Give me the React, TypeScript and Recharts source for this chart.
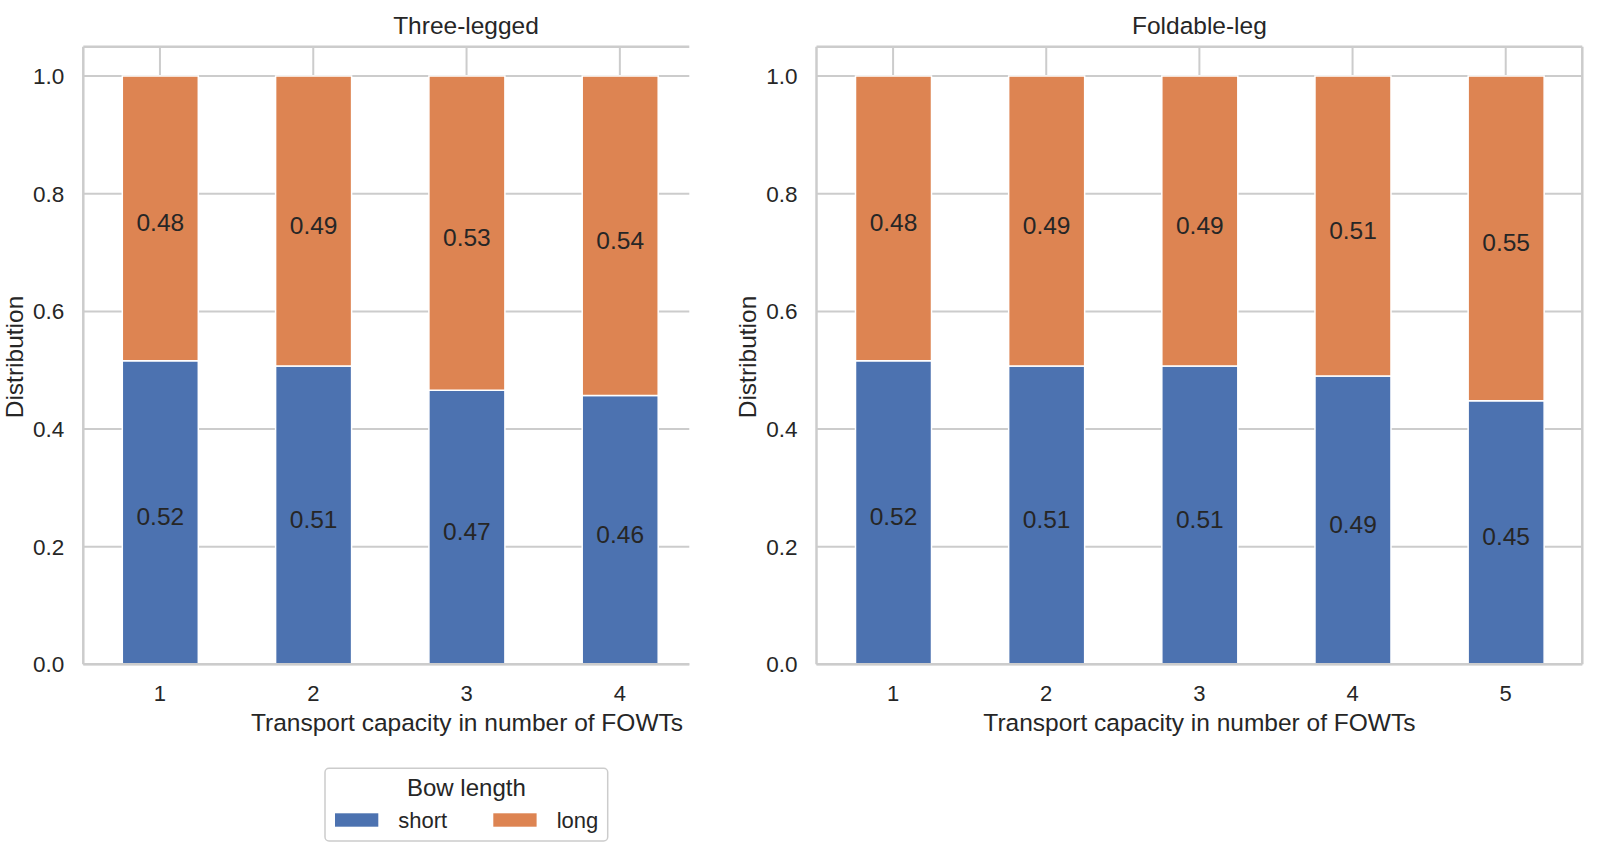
import React from 'react';
import { BarChart, Bar, XAxis, YAxis, CartesianGrid, LabelList, ReferenceLine } from 'recharts';

const leftCategories = ['1', '2', '3', '4'];
const leftShort = [0.516, 0.507, 0.466, 0.457];
const leftLong = [0.484, 0.493, 0.534, 0.543];
const rightCategories = ['1', '2', '3', '4', '5'];
const rightShort = [0.516, 0.507, 0.507, 0.49, 0.448];
const rightLong = [0.484, 0.493, 0.493, 0.51, 0.552];
const yTicks = [0, 0.2, 0.4, 0.6, 0.8, 1.0];
const panelTitles = ['Three-legged', 'Foldable-leg'];
const xLabel = 'Transport capacity in number of FOWTs';
const yLabel = 'Distribution';
const legendTitle = 'Bow length';
const seriesNames = ['short', 'long'];

const BLUE = '#4C72B0';
const ORANGE = '#DD8452';
const GRID = '#cccccc';
const TEXT = '#262626';
const FONT = '"Liberation Sans", Arial, sans-serif';

type PanelProps = {
  categories: string[];
  short: number[];
  long: number[];
  xMax: number;
  left: number;
  width: number;
  marginLeft: number;
  marginRight: number;
  rightSpine: boolean;
};

function Panel({ categories, short, long, xMax, left, width, marginLeft, marginRight, rightSpine }: PanelProps) {
  const data = categories.map((c, i) => ({ x: i, short: short[i], long: long[i] }));
  const xTicks = categories.map((_, i) => i);
  return (
    <div style={{ position: 'absolute', left, top: 0 }}>
      <BarChart
        width={width}
        height={740}
        data={data}
        margin={{ top: 46.7, right: marginRight, bottom: 45.7, left: marginLeft }}
      >
        <CartesianGrid stroke={GRID} strokeWidth={2} horizontal vertical syncWithTicks />
        <XAxis
          type="number"
          dataKey="x"
          domain={[-0.5, xMax]}
          allowDataOverflow
          ticks={xTicks}
          interval={0}
          tickFormatter={(v: number) => categories[v]}
          tickLine={false}
          tickSize={0}
          tickMargin={21}
          height={30}
          axisLine={{ stroke: GRID, strokeWidth: 2.5 }}
          tick={{ fontSize: 22, fill: TEXT, fontFamily: FONT }}
        />
        <YAxis
          type="number"
          domain={[0, 1.05]}
          allowDataOverflow
          ticks={yTicks}
          interval={0}
          tickFormatter={(v: number) => v.toFixed(1)}
          tickLine={false}
          tickSize={0}
          tickMargin={19}
          width={60}
          axisLine={{ stroke: GRID, strokeWidth: 2.5 }}
          tick={{ fontSize: 22.5, fill: TEXT, fontFamily: FONT }}
        />
        <ReferenceLine y={1.05} stroke={GRID} strokeWidth={2.5} ifOverflow="visible" />
        {rightSpine && <ReferenceLine x={xMax} stroke={GRID} strokeWidth={2.5} ifOverflow="visible" />}
        <Bar dataKey="short" stackId="s" fill={BLUE} stroke="#ffffff" strokeWidth={1.5} barSize={76} isAnimationActive={false}>
          <LabelList
            dataKey="short"
            position="center"
            formatter={(v: number) => Number(v).toFixed(2)}
            fill={TEXT}
            fontSize={24.5}
            fontFamily={FONT}
            dy={4}
          />
        </Bar>
        <Bar dataKey="long" stackId="s" fill={ORANGE} stroke="#ffffff" strokeWidth={1.5} barSize={76} isAnimationActive={false}>
          <LabelList
            dataKey="long"
            position="center"
            formatter={(v: number) => Number(v).toFixed(2)}
            fill={TEXT}
            fontSize={24.5}
            fontFamily={FONT}
            dy={4}
          />
        </Bar>
      </BarChart>
    </div>
  );
}

export default function App() {
  return (
    <div style={{ position: 'absolute', left: 0, top: 0, width: 1600, height: 859, background: '#fff', fontFamily: FONT }}>
      <Panel
        categories={leftCategories}
        short={leftShort}
        long={leftLong}
        xMax={3.453}
        left={0}
        width={700}
        marginLeft={23.3}
        marginRight={10.7}
        rightSpine={false}
      />
      <Panel
        categories={rightCategories}
        short={rightShort}
        long={rightLong}
        xMax={4.5}
        left={740}
        width={860}
        marginLeft={16.5}
        marginRight={17.7}
        rightSpine
      />
      <svg
        width={1600}
        height={859}
        style={{ position: 'absolute', left: 0, top: 0, pointerEvents: 'none' }}
        fontFamily={FONT}
      >
        <text x={466} y={33.5} textAnchor="middle" fontSize={24.5} fill={TEXT}>{panelTitles[0]}</text>
        <text x={1199.4} y={33.5} textAnchor="middle" fontSize={24.5} fill={TEXT}>{panelTitles[1]}</text>
        <text x={467} y={731} textAnchor="middle" fontSize={24.5} fill={TEXT}>{xLabel}</text>
        <text x={1199.4} y={731} textAnchor="middle" fontSize={24.5} fill={TEXT}>{xLabel}</text>
        <text x={22.5} y={357} textAnchor="middle" fontSize={24.5} fill={TEXT} transform="rotate(-90 22.5 357)">{yLabel}</text>
        <text x={756} y={357} textAnchor="middle" fontSize={24.5} fill={TEXT} transform="rotate(-90 756 357)">{yLabel}</text>
        <rect x={325} y={768.3} width={282.7} height={72.7} rx={4} fill="#fff" stroke={GRID} strokeWidth={1.5} />
        <text x={466.4} y={796} textAnchor="middle" fontSize={24} fill={TEXT}>{legendTitle}</text>
        <rect x={335} y={813.3} width={43.3} height={13.4} fill={BLUE} />
        <text x={398.3} y={828.3} fontSize={22} fill={TEXT}>{seriesNames[0]}</text>
        <rect x={493.3} y={813.3} width={43.3} height={13.4} fill={ORANGE} />
        <text x={556.7} y={828.3} fontSize={22} fill={TEXT}>{seriesNames[1]}</text>
      </svg>
    </div>
  );
}
